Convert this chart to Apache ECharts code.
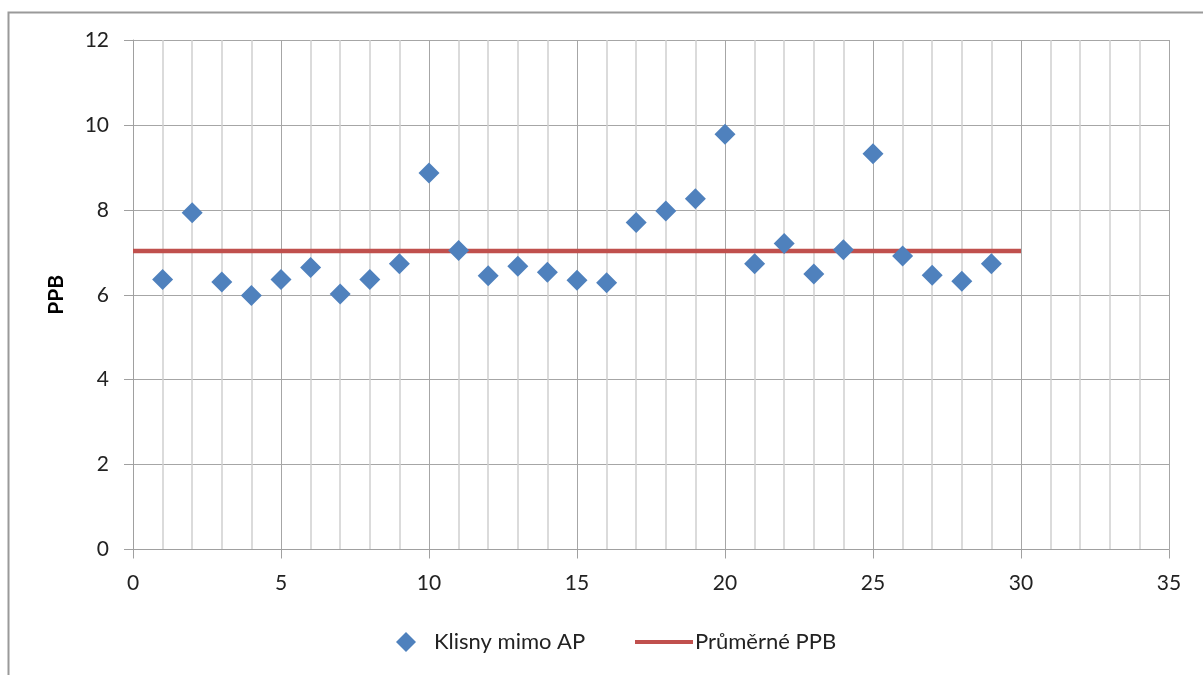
<!DOCTYPE html>
<html>
<head>
<meta charset="utf-8">
<script src="https://cdn.jsdelivr.net/npm/echarts@6/dist/echarts.min.js"></script>
<style>
  html, body { margin: 0; padding: 0; background: #fff; }
  #chart { width: 1203px; height: 675px; }
</style>
</head>
<body>
<div id="chart"></div>
<script>
// Mare index (1..29) and measured PPB values
const mareIndex = [1, 2, 3, 4, 5, 6, 7, 8, 9, 10, 11, 12, 13, 14, 15, 16, 17, 18, 19, 20, 21, 22, 23, 24, 25, 26, 27, 28, 29];
const ppbValues = [6.36, 7.93, 6.30, 5.98, 6.36, 6.64, 6.02, 6.36, 6.73, 8.87, 7.04, 6.45, 6.67, 6.53, 6.34, 6.28, 7.70, 7.97, 8.26, 9.78, 6.73, 7.21, 6.49, 7.06, 9.32, 6.91, 6.46, 6.32, 6.73];

// Average PPB, drawn as a horizontal line across the x range
const averagePPB = 7.03;
const averageRange = [0, 30];

const seriesNames = ['Klisny mimo AP', 'Průměrné PPB'];
const yAxisTitle = 'PPB';

const FONT = 'Lato, "Open Sans", sans-serif';

const chart = echarts.init(document.getElementById('chart'), null, { renderer: 'canvas' });

chart.setOption({
  animation: false,
  backgroundColor: '#ffffff',
  graphic: [{
    type: 'rect',
    left: 6, top: 10,
    shape: { width: 1300, height: 800 },
    style: { fill: 'none', stroke: '#9a9a9a', lineWidth: 2 },
    silent: true
  }],
  grid: { left: 133, top: 40, right: 34, bottom: 125.5, containLabel: false },
  legend: [{
    data: [{ name: seriesNames[0], icon: 'diamond' }],
    left: 391, top: 626,
    itemWidth: 20, itemHeight: 20,
    itemStyle: { opacity: 1 },
    textStyle: { fontFamily: FONT, fontSize: 22, color: '#222', padding: [0, 0, 0, 13] }
  }, {
    data: [{ name: seriesNames[1], icon: 'rect' }],
    left: 630, top: 626,
    itemWidth: 58, itemHeight: 4,
    itemStyle: { color: '#c0504d' },
    textStyle: { fontFamily: FONT, fontSize: 22, color: '#222', padding: [0, 0, 0, -3] }
  }],
  xAxis: {
    type: 'value',
    min: 0, max: 35, interval: 5,
    axisLine: { show: true, lineStyle: { color: '#a0a0a0', width: 1 } },
    axisTick: { show: true, length: 9, lineStyle: { color: '#a0a0a0' } },
    axisLabel: { fontFamily: FONT, fontSize: 21, color: '#222', margin: 23 },
    splitLine: { show: true, lineStyle: { color: '#a6a6a6', width: 1 } },
    minorTick: { show: false, splitNumber: 5 },
    minorSplitLine: { show: true, lineStyle: { color: '#d0d0d0', width: 1.5 } }
  },
  yAxis: {
    type: 'value',
    min: 0, max: 12, interval: 2,
    name: yAxisTitle,
    nameLocation: 'middle',
    nameGap: 66,
    nameRotate: 90,
    nameTextStyle: { fontFamily: FONT, fontSize: 21, fontWeight: 'bold', color: '#000' },
    axisLine: { show: true, lineStyle: { color: '#a0a0a0', width: 1 } },
    axisTick: { show: true, length: 9, lineStyle: { color: '#a0a0a0' } },
    axisLabel: { fontFamily: FONT, fontSize: 21, color: '#222', margin: 24 },
    splitLine: { show: true, lineStyle: { color: '#a6a6a6', width: 1 } }
  },
  series: [{
    name: seriesNames[0],
    type: 'scatter',
    symbol: 'diamond',
    symbolSize: 21,
    itemStyle: { color: '#4f81bd', opacity: 1 },
    data: mareIndex.map((x, i) => [x, ppbValues[i]]),
    z: 3
  }, {
    name: seriesNames[1],
    type: 'line',
    symbol: 'none',
    lineStyle: { color: '#c0504d', width: 4.5 },
    itemStyle: { color: '#c0504d' },
    data: averageRange.map(x => [x, averagePPB]),
    z: 2
  }]
});
</script>
</body>
</html>
